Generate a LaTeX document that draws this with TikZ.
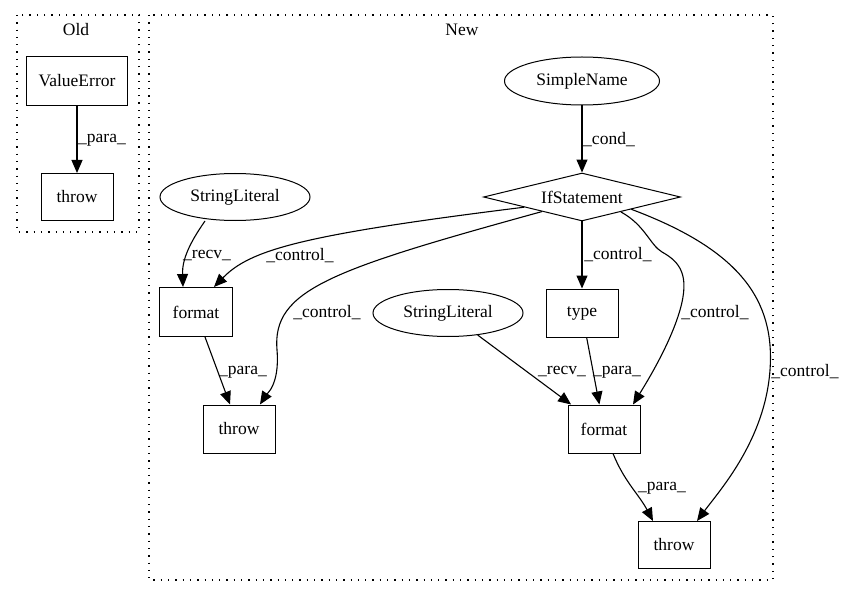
\documentclass[tikz,border=0pt]{standalone}
\usepackage{fontspec}
\setmainfont{Liberation Serif}
\usetikzlibrary{arrows.meta,shapes.geometric}

\tikzset{
  box/.style={draw,rectangle,line width=1pt,minimum width=72pt,minimum height=48pt,inner sep=0pt},
  lit/.style={draw,ellipse,line width=1pt,minimum width=150pt,minimum height=47pt,inner sep=0pt},
  cond/.style={draw,diamond,line width=1pt,shape aspect=4,minimum width=197pt,minimum height=48pt,inner sep=0pt},
  lbl/.style={inner sep=0pt},
  cluster/.style={line width=1.1pt,dash pattern=on 1.3pt off 6pt},
}

\begin{document}
\begin{tikzpicture}[x=1pt,y=-1pt,->,>={Triangle[length=13pt,width=11pt]},line width=1.1pt,node distance=116pt,
  font=\fontsize{17.5}{21}\selectfont]
\useasboundingbox (0,0) rectangle (843,596);

% clusters
\draw[cluster,-] (17,15) rectangle (139,232);
\draw[cluster,-] (149,15) rectangle (773,580);
\node[lbl] (old) at (76,30) {Old};
\node[lbl] (new) at (462,30) {New};

% old
\node[box,minimum width=101pt,minimum height=49pt] (valerr) at (77,81) {ValueError};
\node[box,minimum height=47pt] (throwA) [below of=valerr] {throw};

% new
\node[lit,minimum width=155pt,minimum height=48pt] (sname) at (582,81) {SimpleName};
\node[cond]       (ifst)  [below of=sname] {IfStatement};
\node[box]        (type)  [below of=ifst] {type};
\node[lit]        (strA)  at (235,197) {StringLiteral};
\node[lit]        (strB)  at (448,313) {StringLiteral};
\node[box,minimum width=73pt,minimum height=49pt] (fmtA) at (196,312) {format};
\node[box]        (fmtB)  at (604,429) {format};
\node[box]        (throwB) at (239,429) {throw};
\node[box,minimum height=47pt] (throwC) at (674,545) {throw};

\path
(valerr) edge (throwA)
(sname)  edge (ifst)
(ifst)   edge (type)
(strB)   edge (fmtB)
(type)   edge (fmtB)
([xshift=9pt]fmtA.south) edge ([xshift=-9pt]throwB.north)
([xshift=-30pt]strA.south) edge [out=-125,in=92] ([xshift=-13pt]fmtA.north)
([xshift=9pt]fmtB.south) edge [out=-68,in=118] ([xshift=-21pt]throwC.north)
;

\draw (ifst.190) .. controls (300,235) and (250,250) .. ([xshift=18pt]fmtA.north);
\draw (ifst.200) .. controls (330,270) and (272,290) .. (277,350)
                 .. controls (280,385) and (266,395) .. ([xshift=21pt]throwB.north);
\draw (ifst.-21.5) .. controls (645,225) and (650,245) .. (662,252)
                   .. controls (680,262) and (690,275) .. (680,310)
                   .. controls (670,345) and (645,385) .. ([xshift=29pt]fmtB.north);
\draw (ifst.-14) .. controls (740,250) and (775,300) .. (770,370)
                 .. controls (765,440) and (720,490) .. ([xshift=23pt]throwC.north);

% labels
\node[lbl] (l1)  at (102,140) {\_para\_};
\node[lbl] (l2)  at (609,140) {\_cond\_};
\node[lbl] (l3)  at (207,256) {\_recv\_};
\node[lbl] (l4)  at (300,256) {\_control\_};
\node[lbl] (l5)  at (327,313) {\_control\_};
\node[lbl] (l6)  at (243,372) {\_para\_};
\node[lbl] (l7)  at (618,255) {\_control\_};
\node[lbl] (l8)  at (715,313) {\_control\_};
\node[lbl] (l9)  at (805,372) {\_control\_};
\node[lbl] (l10) at (562,372) {\_recv\_};
\node[lbl] (l11) at (617,372) {\_para\_};
\node[lbl] (l12) at (662,488) {\_para\_};
\end{tikzpicture}
\end{document}
